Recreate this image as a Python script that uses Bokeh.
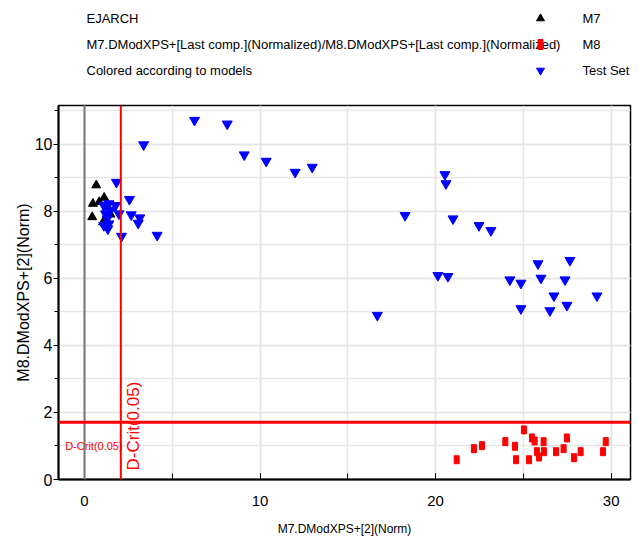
from bokeh.plotting import figure
from bokeh.models import Range1d, Span, FixedTicker
from bokeh.layouts import column
from bokeh.embed import file_html
from bokeh.resources import INLINE
from bokeh.core.properties import value

# ---------------- data ----------------
m7_x = [0.67, 0.48, 0.84, 1.12, 0.44, 1.48, 1.29, 1.06]
m7_y = [8.78, 8.23, 8.28, 8.41, 7.83, 7.91, 8.13, 7.68]

test_x = [1.82, 2.56, 1.77, 1.96, 2.66, 3.15, 3.06, 2.11, 4.14, 1.10, 1.39, 1.20,
          1.29, 1.39, 1.10, 1.33, 1.48,
          3.37, 6.27, 8.13, 9.10, 10.35, 12.0, 12.97, 18.26, 16.68,
          20.53, 20.59, 20.99, 22.47, 23.15, 20.13, 20.70, 25.83, 27.65, 24.23,
          24.86, 26.0, 27.37, 26.74, 29.19, 24.86, 26.51, 27.48]
test_y = [8.87, 8.36, 8.18, 7.93, 7.90, 7.81, 7.65, 7.26, 7.29, 8.18, 8.23, 7.93,
          7.78, 7.63, 7.58, 7.48, 8.03,
          9.99, 10.72, 10.61, 9.69, 9.50, 9.17, 9.32, 7.88, 4.90,
          9.10, 8.83, 7.78, 7.58, 7.43, 6.09, 6.06, 6.44, 6.54, 5.96,
          5.86, 6.01, 5.96, 5.48, 5.48, 5.10, 5.04, 5.20]

m8_x = [21.2, 22.18, 22.64, 23.97, 24.52, 24.58, 25.03, 25.49, 25.64, 25.32, 25.77,
        25.89, 26.15, 26.17, 26.86, 27.29, 27.48, 27.88, 28.26, 29.53, 29.69]
m8_y = [0.59, 0.92, 1.01, 1.13, 0.99, 0.59, 1.48, 1.24, 1.15, 0.59, 0.83,
        0.67, 1.13, 0.83, 0.83, 0.92, 1.24, 0.65, 0.83, 0.83, 1.13]

dcrit_x = 2.07
dcrit_y = 1.71

x_ticks = [0, 10, 20, 30]
x_minor = [0, 5, 10, 15, 20, 25, 30]
y_ticks = [0, 2, 4, 6, 8, 10]
y_minor = [0, 1, 2, 3, 4, 5, 6, 7, 8, 9, 10, 11]

header_lines = ["EJARCH",
                "M7.DModXPS+[Last comp.](Normalized)/M8.DModXPS+[Last comp.](Normalized)",
                "Colored according to models"]
legend_names = ["M7", "M8", "Test Set"]

x_label = "M7.DModXPS+[2](Norm)"
y_label = "M8.DModXPS+[2](Norm)"
crit_label = "D-Crit(0.05)"

SANS_S = "'Liberation Sans', Arial, sans-serif"
SANS = value(SANS_S)

# frame geometry (pixels) shared by header and main plot
FL, FR = 58, 630

# ---------------- header ----------------
H = 92
hdr = figure(width=639, height=H, x_range=Range1d(FL, FR), y_range=Range1d(H, 0),
             x_axis_type=None, y_axis_type=None, toolbar_location=None,
             output_backend="svg", min_border=0,
             min_border_left=FL, min_border_right=639 - FR)
hdr.grid.visible = False
hdr.outline_line_color = None
line_y = [18, 44, 70]
hdr.text(x=[86, 86, 86], y=line_y, text=header_lines, text_font=SANS,
         text_font_size="13px", text_baseline="middle", text_align="left",
         text_color="black")
hdr.scatter(x=[540], y=[line_y[0]], marker="triangle", size=8, color="black")
hdr.rect(x=[540], y=[line_y[1]], width=5, height=10, color="#ff0000")
hdr.scatter(x=[540], y=[line_y[2]], marker="inverted_triangle", size=8, color="#0000ff")
hdr.text(x=[582, 582, 582], y=line_y, text=legend_names, text_font=SANS,
         text_font_size="13px", text_baseline="middle", text_align="left",
         text_color="black")

# ---------------- main plot ----------------
p = figure(width=639, height=539 - H, x_range=Range1d(-1.48, 31.1),
           y_range=Range1d(0, 11.16), toolbar_location=None, output_backend="svg",
           min_border_left=FL, min_border_right=639 - FR, min_border_top=13,
           min_border_bottom=60)
p.outline_line_color = "black"
p.outline_line_width = 1.5

p.xaxis.ticker = FixedTicker(ticks=x_ticks, minor_ticks=x_minor)
p.yaxis.ticker = FixedTicker(ticks=y_ticks, minor_ticks=y_minor)
for g in (p.xgrid, p.ygrid):
    g.grid_line_color = "#e6e6e6"
    g.grid_line_width = 1.5
    g.minor_grid_line_color = "#e6e6e6"
    g.minor_grid_line_width = 1.5

p.xaxis.axis_line_width = 2
p.yaxis.axis_line_width = 2
p.xaxis.axis_line_color = "black"
p.yaxis.axis_line_color = "black"
p.xaxis.major_tick_in = 6
p.xaxis.major_tick_out = 0
p.xaxis.minor_tick_in = 6
p.xaxis.minor_tick_out = 0
p.yaxis.major_tick_in = 0
p.yaxis.major_tick_out = 5
p.yaxis.minor_tick_in = 0
p.yaxis.minor_tick_out = 4
p.xaxis.major_label_standoff = 16
p.yaxis.major_label_standoff = 1
p.xaxis.major_label_text_font = SANS_S
p.yaxis.major_label_text_font = SANS_S
p.xaxis.major_label_text_font_size = "15px"
p.yaxis.major_label_text_font_size = "16px"
p.xaxis.major_label_text_color = "black"
p.yaxis.major_label_text_color = "black"
p.xaxis.axis_label = x_label
p.yaxis.axis_label = y_label
p.xaxis.axis_label_text_font = SANS_S
p.yaxis.axis_label_text_font = SANS_S
p.xaxis.axis_label_text_font_size = "12px"
p.yaxis.axis_label_text_font_size = "16px"
p.xaxis.axis_label_text_font_style = "normal"
p.yaxis.axis_label_text_font_style = "normal"
p.xaxis.axis_label_text_color = "black"
p.yaxis.axis_label_text_color = "black"
p.xaxis.axis_label_standoff = 13
p.yaxis.axis_label_standoff = 0

p.add_layout(Span(location=0, dimension="height", line_color="#777777", line_width=2))
p.add_layout(Span(location=dcrit_x, dimension="height", line_color="#ff0000", line_width=2))
p.add_layout(Span(location=dcrit_y, dimension="width", line_color="#ff0000", line_width=3))

p.text(x=[dcrit_x + 0.75], y=[0.27], text=[crit_label], angle=1.5708,
       text_font=SANS, text_font_size="17px", text_color="#ff0000",
       text_align="left", text_baseline="middle")
p.text(x=[-1.1], y=[dcrit_y - 0.7], text=[crit_label], text_font=SANS,
       text_font_size="11px", text_color="#ff0000", text_align="left",
       text_baseline="middle")

p.scatter(x=m7_x, y=m7_y, marker="triangle", size=9, color="black")
p.scatter(x=test_x, y=test_y, marker="inverted_triangle", size=10, color="#0000ff")
p.rect(x=m8_x, y=m8_y, width=5, height=8, width_units="screen",
       height_units="screen", color="#ff0000")

layout = column(hdr, p, spacing=0)
open("out.html", "w").write(file_html(layout, INLINE))
